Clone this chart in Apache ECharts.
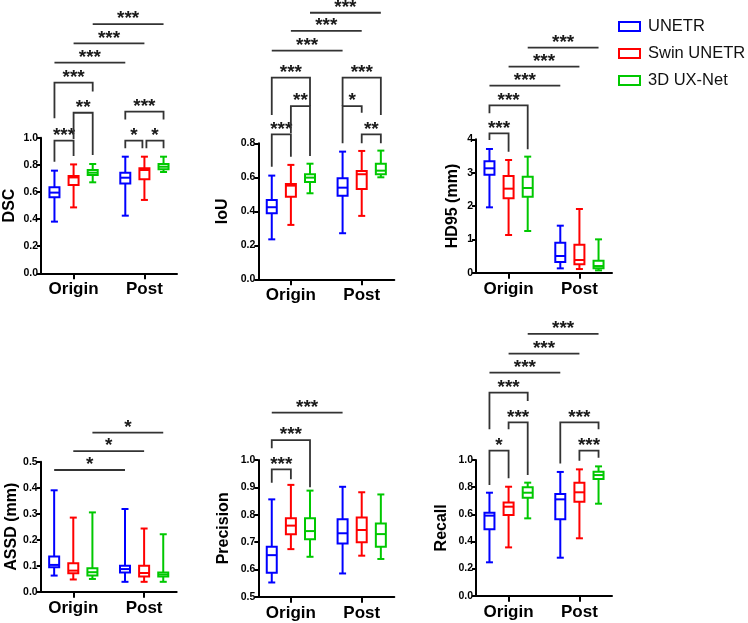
<!DOCTYPE html>
<html><head><meta charset="utf-8">
<script src="https://cdn.jsdelivr.net/npm/echarts@6/dist/echarts.min.js"></script>
<style>html,body{margin:0;padding:0;background:#fff}#chart{width:748px;height:623px}</style>
</head><body><div id="chart"></div>
<script>
const categories = ['Origin', 'Post'];
const models = ['UNETR', 'Swin UNETR', '3D UX-Net'];
const colors = ['#0000ff', '#ff0000', '#00c800'];

// each box: [min, Q1, median, Q3, max]; one box per category
const dscUNETR = [[0.381, 0.560, 0.595, 0.634, 0.757], [0.425, 0.663, 0.705, 0.742, 0.860]];
const dscSwin  = [[0.486, 0.651, 0.707, 0.717, 0.803], [0.541, 0.693, 0.762, 0.774, 0.860]];
const dscUX    = [[0.671, 0.725, 0.742, 0.762, 0.806], [0.747, 0.767, 0.786, 0.806, 0.860]];

const iouUNETR = [[0.235, 0.388, 0.424, 0.467, 0.610], [0.271, 0.492, 0.539, 0.594, 0.751]];
const iouSwin  = [[0.320, 0.486, 0.551, 0.561, 0.673], [0.373, 0.531, 0.618, 0.637, 0.755]];
const iouUX    = [[0.506, 0.573, 0.598, 0.618, 0.680], [0.600, 0.618, 0.639, 0.680, 0.757]];

const hdUNETR = [[1.96, 2.94, 3.13, 3.34, 3.71], [0.13, 0.32, 0.50, 0.90, 1.41]];
const hdSwin  = [[1.13, 2.23, 2.52, 2.90, 3.38], [0.11, 0.25, 0.38, 0.84, 1.91]];
const hdUX    = [[1.25, 2.28, 2.54, 2.88, 3.48], [0.07, 0.13, 0.20, 0.36, 1.00]];

const assdUNETR = [[0.062, 0.094, 0.103, 0.135, 0.390], [0.038, 0.074, 0.087, 0.100, 0.318]];
const assdSwin  = [[0.047, 0.071, 0.081, 0.109, 0.285], [0.038, 0.058, 0.072, 0.100, 0.243]];
const assdUX    = [[0.049, 0.062, 0.075, 0.090, 0.305], [0.038, 0.058, 0.066, 0.074, 0.221]];

const precUNETR = [[0.552, 0.588, 0.652, 0.683, 0.856], [0.585, 0.695, 0.732, 0.783, 0.902]];
const precSwin  = [[0.674, 0.728, 0.760, 0.787, 0.909], [0.650, 0.699, 0.744, 0.790, 0.882]];
const precUX    = [[0.646, 0.710, 0.740, 0.787, 0.888], [0.638, 0.683, 0.729, 0.768, 0.874]];

const recUNETR = [[0.246, 0.489, 0.590, 0.612, 0.759], [0.280, 0.563, 0.710, 0.749, 0.912]];
const recSwin  = [[0.356, 0.595, 0.656, 0.686, 0.803], [0.423, 0.693, 0.762, 0.833, 0.931]];
const recUX    = [[0.570, 0.722, 0.759, 0.799, 0.833], [0.678, 0.860, 0.889, 0.914, 0.953]];

// significance: [fromCat, fromModel, toCat, toModel, level, leftLegEnd, rightLegEnd, label, insetL, insetR]
const dscSig = [
  [0, 0, 0, 1, 0.978, 0.823, 0.865, '***'],
  [0, 1, 0, 2, 1.184, 0.990, 0.872, '**'],
  [0, 0, 0, 2, 1.406, 1.143, 1.340, '***'],
  [1, 0, 1, 1, 0.978, 0.922, 0.922, '*', 0, 2],
  [1, 1, 1, 2, 0.978, 0.922, 0.922, '*', 2, 0],
  [1, 0, 1, 2, 1.192, 1.135, 1.135, '***'],
  [0, 0, 1, 0, 1.553, null, null, '***'],
  [0, 1, 1, 1, 1.696, null, null, '***'],
  [0, 2, 1, 2, 1.838, null, null, '***']
];
const iouSig = [
  [0, 0, 0, 1, 0.853, 0.662, 0.721, '***'],
  [0, 1, 0, 2, 1.019, 0.859, 0.725, '**'],
  [0, 0, 0, 2, 1.186, 0.966, 1.019, '***'],
  [1, 0, 1, 1, 1.019, 0.800, 0.980, '*'],
  [1, 1, 1, 2, 0.853, 0.800, 0.800, '**'],
  [1, 0, 1, 2, 1.186, 1.019, 0.966, '***'],
  [0, 0, 1, 0, 1.345, null, null, '***'],
  [0, 1, 1, 1, 1.461, null, null, '***'],
  [0, 2, 1, 2, 1.568, null, null, '***']
];
const hdSig = [
  [0, 0, 0, 1, 4.18, 3.98, 3.63, '***'],
  [0, 0, 0, 2, 5.02, 4.78, 3.70, '***'],
  [0, 0, 1, 0, 5.61, null, null, '***'],
  [0, 1, 1, 1, 6.18, null, null, '***'],
  [0, 2, 1, 2, 6.75, null, null, '***']
];
const assdSig = [
  [0, 0, 1, 0, 0.468, null, null, '*'],
  [0, 1, 1, 1, 0.541, null, null, '*'],
  [0, 2, 1, 2, 0.612, null, null, '*']
];
const precSig = [
  [0, 0, 0, 1, 0.966, 0.917, 0.930, '***'],
  [0, 0, 0, 2, 1.073, 1.043, 0.900, '***'],
  [0, 0, 1, 0, 1.173, null, null, '***']
];
const recSig = [
  [0, 0, 0, 1, 1.069, 0.816, 0.865, '*'],
  [0, 1, 0, 2, 1.278, 1.226, 0.889, '***'],
  [0, 0, 0, 2, 1.496, 1.226, 1.435, '***'],
  [1, 1, 1, 2, 1.069, 0.995, 1.017, '***'],
  [1, 0, 1, 2, 1.278, 0.975, 1.226, '***'],
  [0, 0, 1, 0, 1.644, null, null, '***'],
  [0, 1, 1, 1, 1.784, null, null, '***'],
  [0, 2, 1, 2, 1.929, null, null, '***']
];

const panels = [
  {name: 'DSC', data: [dscUNETR, dscSwin, dscUX], sig: dscSig, min: 0, max: 1, interval: 0.2, dec: 1,
   left: 41, top: 137.7, height: 135.6, nameGap: 23},
  {name: 'IoU', data: [iouUNETR, iouSwin, iouUX], sig: iouSig, min: 0, max: 0.8, interval: 0.2, dec: 1,
   left: 258.3, top: 143.3, height: 136, nameGap: 28},
  {name: 'HD95 (mm)', data: [hdUNETR, hdSwin, hdUX], sig: hdSig, min: 0, max: 4, interval: 1, dec: 0,
   left: 476, top: 139.3, height: 133.4, nameGap: 15},
  {name: 'ASSD (mm)', data: [assdUNETR, assdSwin, assdUX], sig: assdSig, min: 0, max: 0.5, interval: 0.1, dec: 1,
   left: 40.7, top: 461.7, height: 130, nameGap: 19},
  {name: 'Precision', data: [precUNETR, precSwin, precUX], sig: precSig, min: 0.5, max: 1, interval: 0.1, dec: 1,
   left: 258.3, top: 460, height: 136.7, nameGap: 27},
  {name: 'Recall', data: [recUNETR, recSwin, recUX], sig: recSig, min: 0, max: 1, interval: 0.2, dec: 1,
   left: 476, top: 460, height: 135.7, nameGap: 26}
];

const OFF = [-0.27, 0, 0.27];
const AXIS_MIN = -0.46, AXIS_MAX = 1.46, GRID_W = 136;
const FONT = '"Liberation Sans", Arial, Helvetica, sans-serif';

function lineStyle(color, w) { return {stroke: color, lineWidth: w, fill: null}; }

function renderBox(params, api) {
  const x = api.value(0);
  const p = [1, 2, 3, 4, 5].map(k => api.coord([x, api.value(k)]));
  const cx = p[0][0];
  const color = api.visual('color');
  const hw = 5, cw = 3.5, lw = 2;
  const yMin = p[0][1], yQ1 = p[1][1], yMed = p[2][1], yQ3 = p[3][1], yMax = p[4][1];
  return {type: 'group', children: [
    {type: 'line', shape: {x1: cx, y1: yMax, x2: cx, y2: yQ3}, style: lineStyle(color, lw)},
    {type: 'line', shape: {x1: cx, y1: yQ1, x2: cx, y2: yMin}, style: lineStyle(color, lw)},
    {type: 'line', shape: {x1: cx - cw, y1: yMax, x2: cx + cw, y2: yMax}, style: lineStyle(color, lw)},
    {type: 'line', shape: {x1: cx - cw, y1: yMin, x2: cx + cw, y2: yMin}, style: lineStyle(color, lw)},
    {type: 'rect', shape: {x: cx - hw, y: yQ3, width: hw * 2, height: yQ1 - yQ3}, style: {stroke: color, lineWidth: lw, fill: '#fff'}},
    {type: 'line', shape: {x1: cx - hw, y1: yMed, x2: cx + hw, y2: yMed}, style: lineStyle(color, lw)}
  ]};
}

function makeBracketRenderer(rows) {
  return function (params, api) {
    const row = rows[params.dataIndex];
    const x1 = api.value(0), x2 = api.value(1), lvl = api.value(2);
    const a = api.coord([x1, lvl]), b = api.coord([x2, lvl]);
    const la = api.coord([x1, api.value(3)]), lb = api.coord([x2, api.value(4)]);
    const ax = a[0] + (row[8] || 0), bx = b[0] - (row[9] || 0);
    return {type: 'group', children: [
      {type: 'polyline', shape: {points: [[ax, la[1]], [ax, a[1]], [bx, b[1]], [bx, lb[1]]]},
       style: {stroke: '#333', lineWidth: 1.8, fill: null}},
      {type: 'text', style: {text: row[7], x: (ax + bx) / 2, y: a[1] - 5, align: 'center', verticalAlign: 'middle',
       fontSize: 19, fontWeight: 'bold', fontFamily: FONT, fill: '#1a1a1a'}}
    ]};
  };
}

const option = {
  animation: false,
  backgroundColor: '#fff',
  legend: {
    orient: 'vertical', left: 613, top: 13, itemWidth: 21, itemHeight: 9, itemGap: 10,
    icon: 'rect', selectedMode: false,
    data: models.map((m, i) => ({name: m, itemStyle: {color: '#fff', borderColor: colors[i], borderWidth: 2}})),
    textStyle: {fontSize: 16.5, color: '#111', fontFamily: FONT, padding: [0, 0, 0, 3]}
  },
  grid: [], xAxis: [], yAxis: [], series: []
};

panels.forEach((p, i) => {
  option.grid.push({left: p.left, top: p.top, width: GRID_W, height: p.height});
  option.xAxis.push({
    type: 'value', gridIndex: i, min: AXIS_MIN, max: AXIS_MAX,
    axisLine: {show: true, onZero: false, lineStyle: {color: '#000', width: 2}},
    axisTick: {show: true, customValues: [0, 1], length: 6, lineStyle: {color: '#000', width: 2}},
    axisLabel: {show: true, customValues: [0, 1], formatter: v => categories[Math.round(v)],
      fontSize: 17, fontWeight: 'bold', color: '#000', fontFamily: FONT, margin: 8},
    splitLine: {show: false}
  });
  option.yAxis.push({
    type: 'value', gridIndex: i, min: p.min, max: p.max, interval: p.interval,
    name: p.name, nameLocation: 'middle', nameGap: p.nameGap,
    nameTextStyle: {fontSize: 16, fontWeight: 'bold', color: '#000', fontFamily: FONT},
    axisLine: {show: true, onZero: false, lineStyle: {color: '#000', width: 2}},
    axisTick: {show: true, length: 4, lineStyle: {color: '#000', width: 2}},
    axisLabel: {fontSize: 10.5, fontWeight: 'bold', color: '#000', fontFamily: FONT, margin: 3,
      formatter: v => Number(v).toFixed(p.dec)},
    splitLine: {show: false}
  });
  p.data.forEach((arr, mi) => {
    option.series.push({
      type: 'custom', name: models[mi], xAxisIndex: i, yAxisIndex: i, clip: false, silent: true,
      itemStyle: {color: colors[mi]},
      encode: {x: 0, y: [1, 2, 3, 4, 5]},
      data: arr.map((b, ci) => [ci + OFF[mi]].concat(b)),
      renderItem: renderBox
    });
  });
  option.series.push({
    type: 'custom', name: 'significance', xAxisIndex: i, yAxisIndex: i, clip: false, silent: true,
    encode: {x: [0, 1], y: [2, 3, 4]},
    data: p.sig.map(r => [r[0] + OFF[r[1]], r[2] + OFF[r[3]], r[4],
      r[5] == null ? r[4] : r[5], r[6] == null ? r[4] : r[6]]),
    renderItem: makeBracketRenderer(p.sig)
  });
});

const chart = echarts.init(document.getElementById('chart'), null, {renderer: 'canvas'});
chart.setOption(option);
</script>
</body></html>
